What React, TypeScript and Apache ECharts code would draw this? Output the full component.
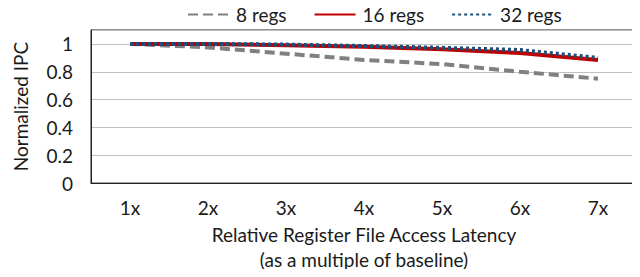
import React, { useEffect, useRef } from "react";
import * as echarts from "echarts";

const categories = ["1x", "2x", "3x", "4x", "5x", "6x", "7x"];
const regs8 = [1.0, 0.975, 0.93, 0.885, 0.855, 0.80, 0.75];
const regs16 = [1.0, 1.0, 0.99, 0.98, 0.962, 0.935, 0.885];
const regs32 = [1.0, 1.0, 0.995, 0.985, 0.972, 0.956, 0.90];
const seriesNames = ["8 regs", "16 regs", "32 regs"];

const FONT = "Lato";
const TXT = "#1a1a1a";
const FS = 19;

export default function App() {
  const ref = useRef<HTMLDivElement>(null);
  useEffect(() => {
    if (!ref.current) return;
    const chart = echarts.init(ref.current, undefined, { renderer: "svg" });
    chart.setOption({
      animation: false,
      textStyle: { fontFamily: FONT, color: TXT },
      grid: { left: 91, right: 3, top: 30, bottom: 90, show: true, borderColor: "#222", borderWidth: 1 },
      legend: {
        top: 0,
        left: 182,
        itemWidth: 41,
        itemHeight: 12,
        itemGap: 27,
        itemStyle: { opacity: 0 },
        textStyle: { fontFamily: FONT, fontSize: FS, color: TXT, padding: [0, 0, 0, 2] },
        data: seriesNames,
      },
      xAxis: {
        type: "category",
        data: categories,
        boundaryGap: true,
        axisLine: { show: true, lineStyle: { color: "#222", width: 1 } },
        axisTick: { show: false },
        axisLabel: { fontFamily: FONT, fontSize: FS, color: TXT, margin: 15 },
        name: "Relative Register File Access Latency\n(as a multiple of baseline)",
        nameLocation: "middle",
        nameGap: 37,
        nameTextStyle: { fontFamily: FONT, fontSize: FS, color: TXT, lineHeight: 25 },
      },
      yAxis: {
        type: "value",
        min: 0,
        max: 1.1,
        interval: 0.2,
        axisLine: { show: true, lineStyle: { color: "#222", width: 1 } },
        axisTick: { show: false },
        splitLine: { show: true, lineStyle: { color: "#c0c0c0", width: 1 } },
        axisLabel: {
          fontFamily: FONT,
          fontSize: FS,
          color: TXT,
          margin: 18,
          formatter: (v: number) => (v > 1.05 ? "" : String(+v.toFixed(1))),
        },
        name: "Normalized IPC",
        nameLocation: "middle",
        nameGap: 61,
        nameTextStyle: { fontFamily: FONT, fontSize: FS, color: TXT },
      },
      series: [
        {
          name: seriesNames[0],
          type: "line",
          data: regs8,
          symbol: "none",
          lineStyle: { color: "#808080", width: 4, type: [10, 5] },
          itemStyle: { color: "#808080" },
        },
        {
          name: seriesNames[1],
          type: "line",
          data: regs16,
          symbol: "none",
          lineStyle: { color: "#C00000", width: 4 },
          itemStyle: { color: "#C00000" },
        },
        {
          name: seriesNames[2],
          type: "line",
          data: regs32,
          symbol: "none",
          lineStyle: { color: "#1F4E79", width: 4, type: [3, 3] },
          itemStyle: { color: "#1F4E79" },
        },
      ],
    });
    return () => chart.dispose();
  }, []);
  return <div ref={ref} style={{ width: 640, height: 277, margin: -8 }} />;
}
